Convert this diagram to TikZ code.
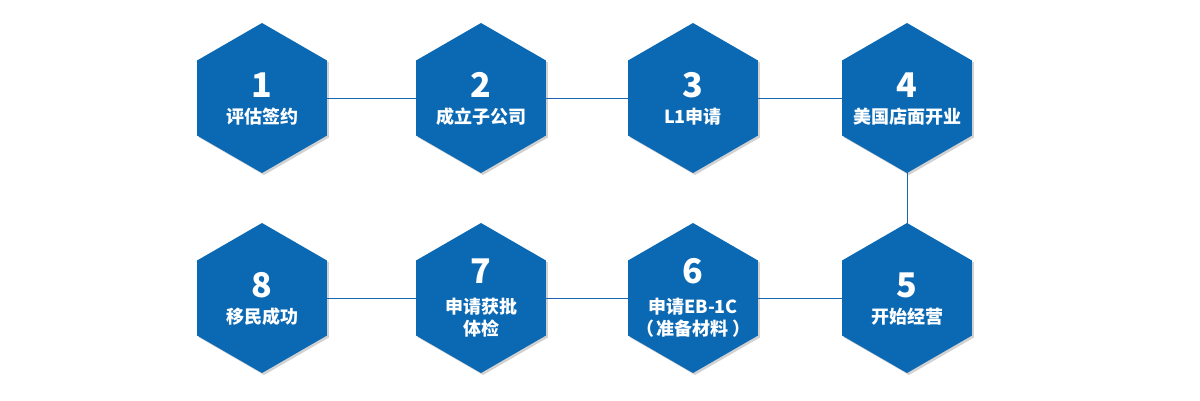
\documentclass[tikz,border=0pt]{standalone}
\usepackage{fontspec}
\setmainfont{Noto Sans CJK SC}
\usetikzlibrary{shapes.geometric}
\definecolor{hexblue}{HTML}{0B69B4}
\definecolor{lineblue}{HTML}{1A66B0}
\tikzset{
  hexbox/.style={regular polygon, regular polygon sides=6, shape border rotate=30,
    minimum size=150pt, inner sep=0pt, fill=hexblue, draw=none},
  hexshadow/.style={regular polygon, regular polygon sides=6, shape border rotate=30,
    minimum size=150pt, inner sep=0pt, fill=black!18, draw=none},
  numtext/.style={anchor=base, text=white, font=\fontsize{34}{34}\selectfont\bfseries, inner sep=0pt},
  labtext/.style={anchor=base, text=white, font=\fontsize{18}{22}\selectfont\bfseries, inner sep=0pt},
  link/.style={draw=lineblue, line width=1pt}
}
\begin{document}
\begin{tikzpicture}[x=1pt,y=-1pt]
\useasboundingbox (0,0) rectangle (1200,400);
% shadows
\foreach \cx/\cy in {262/98,481/98,693/98,907/98,262/298,481/298,693/298,907/298}{
  \node[hexshadow] at (\cx+2,\cy+2) {};
}
% connectors behind hexes
\coordinate (c1) at (262,98);
\coordinate (c2) at (481,98);
\coordinate (c3) at (693,98);
\coordinate (c4) at (907,98);
\coordinate (c5) at (907,298);
\coordinate (c6) at (693,298);
\coordinate (c7) at (481,298);
\coordinate (c8) at (262,298);
\draw[link] (c1) -- (c2);
\draw[link] (c2) -- (c3);
\draw[link] (c3) -- (c4);
\draw[link] (c4) -- (c5);
\draw[link] (c5) -- (c6);
\draw[link] (c6) -- (c7);
\draw[link] (c7) -- (c8);
% hexagons
\node[hexbox] (h1) at (c1) {};
\node[hexbox] (h2) at (c2) {};
\node[hexbox] (h3) at (c3) {};
\node[hexbox] (h4) at (c4) {};
\node[hexbox] (h5) at (c5) {};
\node[hexbox] (h6) at (c6) {};
\node[hexbox] (h7) at (c7) {};
\node[hexbox] (h8) at (c8) {};
% texts two-line
\node[numtext] (n1) at (262,97) {1};
\node[labtext] (t1) at (262,123) {评估签约};
\node[numtext] (n2) at (481,97) {2};
\node[labtext] (t2) at (481,123) {成立子公司};
\node[numtext] (n3) at (693,97) {3};
\node[labtext] (t3) at (693,123) {L1申请};
\node[numtext] (n4) at (907,97) {4};
\node[labtext] (t4) at (907,123) {美国店面开业};
\node[numtext] (n5) at (907,297) {5};
\node[labtext] (t5) at (907,323) {开始经营};
\node[numtext] (n8) at (262,297) {8};
\node[labtext] (t8) at (262,323) {移民成功};
% three-line
\node[numtext] (n6) at (693,283) {6};
\node[labtext] (t6a) at (693,313) {申请EB-1C};
\node[labtext] (t6b) at (693,335) {（\,准备材料\,）};
\node[numtext] (n7) at (481,283) {7};
\node[labtext] (t7a) at (481,313) {申请获批};
\node[labtext] (t7b) at (481,335) {体检};
\end{tikzpicture}
\end{document}
